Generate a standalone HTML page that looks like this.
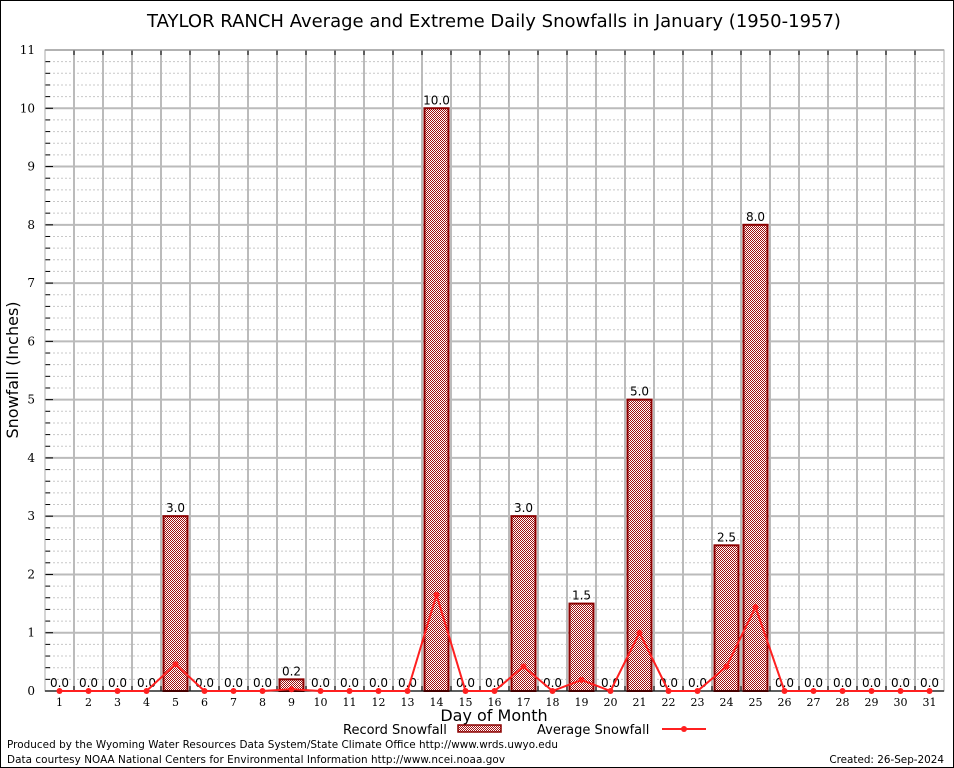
<!DOCTYPE html>
<html><head><meta charset="utf-8"><style>
body{margin:0;background:#fff}
svg{display:block;font-family:"DejaVu Sans","Liberation Sans",sans-serif}
.ser{font-family:"DejaVu Serif","Liberation Serif",serif}
</style></head><body>
<svg id="c" width="954" height="768">
<defs>
<pattern id="chk" width="2" height="2" patternUnits="userSpaceOnUse">
<rect width="2" height="2" fill="#fff"/>
<rect width="1" height="1" fill="#a01010"/>
<rect x="1" y="1" width="1" height="1" fill="#a01010"/>
</pattern>
</defs>
<rect x="0.5" y="0.5" width="953" height="767" fill="#fff" stroke="#000"/>
<text x="494" y="27" font-size="18" text-anchor="middle">TAYLOR RANCH Average and Extreme Daily Snowfalls in January (1950-1957)</text>
<g id="grid"></g>
<g id="marks"></g>
<text transform="translate(18,370) rotate(-90)" font-size="16" text-anchor="middle">Snowfall (Inches)</text>
<text x="494" y="721" font-size="16" text-anchor="middle">Day of Month</text>
<g>
<text x="343" y="734" font-size="13">Record Snowfall</text>
<rect x="458" y="725" width="43" height="7" fill="url(#chk)" stroke="#8b0000" stroke-width="1.5"/>
</g>
<g>
<text x="537" y="734" font-size="13">Average Snowfall</text>
<line x1="662" y1="729" x2="706" y2="729" stroke="#ff2020" stroke-width="2"/>
<circle cx="684" cy="729" r="3" fill="#ff2020"/>
</g>
<text x="7" y="748" font-size="10.4" textLength="551">Produced by the Wyoming Water Resources Data System/State Climate Office http://www.wrds.uwyo.edu</text>
<text x="7" y="763" font-size="10.4" textLength="498">Data courtesy NOAA National Centers for Environmental Information http://www.ncei.noaa.gov</text>
<text x="944" y="763" font-size="10.4" text-anchor="end">Created:  26-Sep-2024</text>
</svg>
<script>
const days=[1,2,3,4,5,6,7,8,9,10,11,12,13,14,15,16,17,18,19,20,21,22,23,24,25,26,27,28,29,30,31];
const recordVals=[0,0,0,0,3.0,0,0,0,0.2,0,0,0,0,10.0,0,0,3.0,0,1.5,0,5.0,0,0,2.5,8.0,0,0,0,0,0,0];
const avgVals=[0,0,0,0,0.46,0,0,0,0.03,0,0,0,0,1.65,0,0,0.42,0,0.19,0,1.0,0,0,0.42,1.44,0,0,0,0,0,0];
const yTicks=[0,1,2,3,4,5,6,7,8,9,10,11];
const L=45,R=944,T=50,B=691,yMax=11;
const xS=d=>L+(d-0.5)*(R-L)/31;
const yS=v=>B-v*(B-T)/yMax;
const NS='http://www.w3.org/2000/svg';
function mk(t,a,p){const e=document.createElementNS(NS,t);for(const k in a)e.setAttribute(k,a[k]);p.appendChild(e);return e;}
const g=document.getElementById('grid'),m=document.getElementById('marks');
mk('rect',{x:L,y:T,width:R-L,height:B-T,fill:'#fff'},g);
for(let v=0;v<yMax;v+=0.2){if(Math.abs(v-Math.round(v))<1e-6)continue;const y=yS(v);
 mk('line',{x1:L,x2:R,y1:y,y2:y,stroke:'#c8c8c8','stroke-dasharray':'2,2'},g);
 mk('line',{x1:L,x2:L+5,y1:y,y2:y,stroke:'#000'},g);}
yTicks.forEach(v=>{const y=yS(v);
 const ln=mk('line',{x1:L,x2:R,y1:y,y2:y,stroke:'#bbb','stroke-width':2},g);
 
 mk('line',{x1:L,x2:L+8,y1:y,y2:y,stroke:'#000'},g);
 const t=mk('text',{x:L-10,y:y+4,'font-size':12,'text-anchor':'end','class':'ser'},g);t.textContent=v;
 });
for(let i=1;i<31;i++){const x=xS(i+0.5);
 mk('line',{x1:x,x2:x,y1:T,y2:B,stroke:'#bbb','stroke-width':2},g);
 mk('line',{x1:x,x2:x,y1:T,y2:T+5,stroke:'#000'},g);
 mk('line',{x1:x,x2:x,y1:B,y2:B-5,stroke:'#000'},g);}
mk('rect',{x:L,y:T,width:R-L,height:B-T,fill:'none',stroke:'#aaa'},g);
days.forEach((d,i)=>{const x=xS(d),v=recordVals[i];
 if(v>0){const b=mk('rect',{x:x-12,y:yS(v),width:24,height:B-yS(v),fill:'url(#chk)',stroke:'#8b0000','stroke-width':2},m);
  }
 const t=mk('text',{x:x,y:yS(v)-4,'font-size':12,'text-anchor':'middle'},m);t.textContent=v.toFixed(1);
 
 const xl=mk('text',{x:x,y:B+15,'font-size':11,'text-anchor':'middle','class':'ser'},m);xl.textContent=d;
 });
mk('line',{x1:L,x2:R,y1:B,y2:B,stroke:'#000'},m);
const pts=days.map((d,i)=>xS(d)+','+yS(avgVals[i])).join(' ');
const pl=mk('polyline',{points:pts,fill:'none',stroke:'#ff2020','stroke-width':2},m);

days.forEach((d,i)=>{const c=mk('circle',{cx:xS(d),cy:yS(avgVals[i]),r:3,fill:'#ff2020'},m);
 });
</script>
</body></html>
